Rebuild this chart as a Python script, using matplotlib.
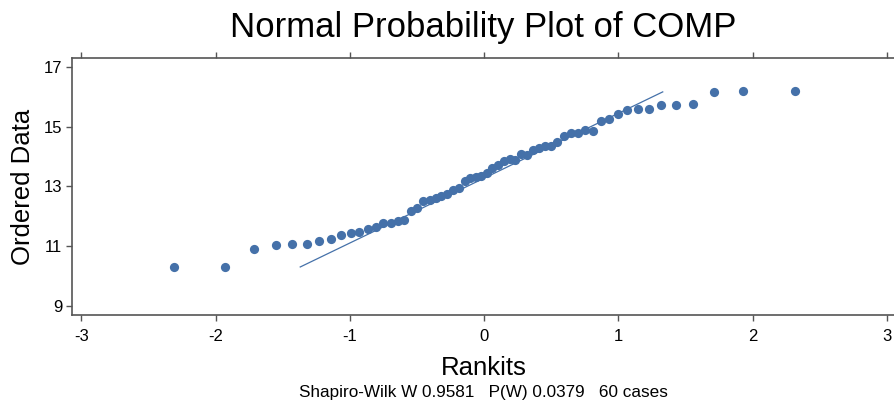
import matplotlib
matplotlib.use("Agg")
import matplotlib.pyplot as plt

rankits = [-2.313, -1.927, -1.711, -1.553, -1.428, -1.320, -1.227, -1.143, -1.066, -0.995,
           -0.930, -0.867, -0.808, -0.752, -0.697, -0.645, -0.595, -0.546, -0.498, -0.452,
           -0.406, -0.361, -0.318, -0.274, -0.231, -0.189, -0.146, -0.104, -0.062, -0.021,
           0.021, 0.062, 0.104, 0.146, 0.189, 0.231, 0.274, 0.318, 0.361, 0.406,
           0.452, 0.498, 0.546, 0.595, 0.645, 0.697, 0.752, 0.808, 0.867, 0.930,
           0.995, 1.066, 1.143, 1.227, 1.320, 1.428, 1.553, 1.711, 1.927, 2.313]
ordered = [10.31, 10.31, 10.92, 11.04, 11.07, 11.07, 11.17, 11.25, 11.37, 11.46,
           11.49, 11.57, 11.65, 11.77, 11.77, 11.86, 11.87, 12.19, 12.29, 12.53,
           12.55, 12.60, 12.69, 12.75, 12.88, 12.94, 13.19, 13.28, 13.33, 13.35,
           13.45, 13.61, 13.72, 13.85, 13.91, 13.89, 14.09, 14.06, 14.21, 14.30,
           14.35, 14.35, 14.48, 14.68, 14.78, 14.78, 14.89, 14.87, 15.20, 15.26,
           15.41, 15.55, 15.60, 15.60, 15.72, 15.73, 15.77, 16.15, 16.20, 16.20]
fit_intercept = 13.28
fit_slope = 2.17
fit_x = [-1.37, 1.33]
x_ticks = [-3, -2, -1, 0, 1, 2, 3]
y_ticks = [9, 11, 13, 15, 17]

color = "#4571a9"
font = ["Liberation Sans", "DejaVu Sans"]

fig = plt.figure(figsize=(8.95, 4.07), dpi=100)
ax = fig.add_axes([72/895, 1-315/407, 1-72/895, (315-58)/407])

ax.scatter(rankits, ordered, s=44, color=color, zorder=3, linewidths=0)
fy = [fit_intercept + fit_slope * x for x in fit_x]
ax.plot(fit_x, fy, color=color, lw=0.9, zorder=2)

ax.set_xlim(-3.07, 3.06)
ax.set_ylim(8.7, 17.3)
ax.set_xticks(x_ticks)
ax.set_yticks(y_ticks)
ax.set_xticklabels([str(t) for t in x_ticks], fontfamily=font, fontsize=12)
ax.set_yticklabels([str(t) for t in y_ticks], fontfamily=font, fontsize=12)
ax.tick_params(axis="x", which="both", top=True, bottom=True, direction="out",
               length=4, width=1, color="#555555", pad=6)
ax.tick_params(axis="y", direction="out", length=4, width=1, color="#555555", pad=3)
for s in ["left", "top", "bottom"]:
    ax.spines[s].set_color("#555555")
    ax.spines[s].set_linewidth(1.2)
ax.spines["right"].set_visible(False)

ax.set_xlabel("Rankits", fontfamily=font, fontsize=18.5, labelpad=9)
ax.set_ylabel("Ordered Data", fontfamily=font, fontsize=18.5, labelpad=6)
fig.text(483/895, 1-27/407, "Normal Probability Plot of COMP", ha="center", va="center",
         fontfamily=font, fontsize=25)
fig.text(483/895, 1-393/407, "Shapiro-Wilk W 0.9581   P(W) 0.0379   60 cases",
         ha="center", va="center", fontfamily=font, fontsize=12.3)

fig.savefig("out.png", dpi=100)
